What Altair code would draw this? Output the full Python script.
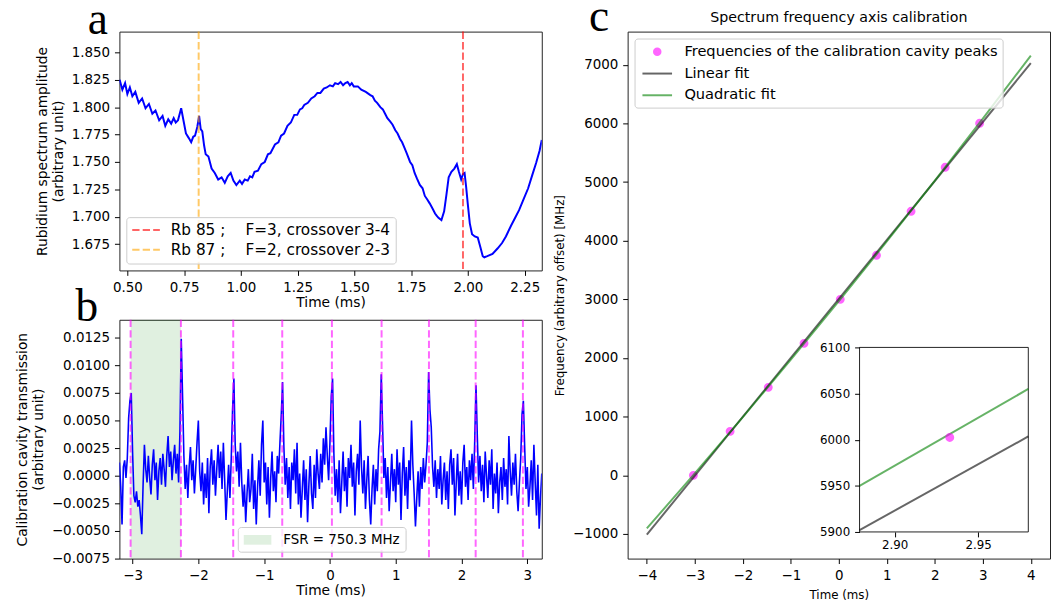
import altair as alt
import pandas as pd

FONT = "DejaVu Sans"
SERIF = "Liberation Serif"

# ---------------- panel a : rubidium spectrum ----------------
a_time = [0.466, 0.478, 0.490, 0.500, 0.511, 0.522, 0.535, 0.550, 0.565, 0.580,
          0.595, 0.610, 0.624, 0.640, 0.655, 0.667, 0.680, 0.693, 0.704, 0.713,
          0.723, 0.737, 0.748, 0.758, 0.770, 0.781, 0.790, 0.798, 0.808, 0.816,
          0.823, 0.830, 0.838, 0.845, 0.857, 0.871, 0.885, 0.900, 0.915, 0.929,
          0.942, 0.955, 0.967, 0.980, 0.995, 1.005, 1.017, 1.030, 1.040, 1.050,
          1.060, 1.075, 1.090, 1.105, 1.119, 1.130, 1.150, 1.165, 1.177, 1.190,
          1.205, 1.220, 1.235, 1.248, 1.260, 1.270, 1.279, 1.295, 1.310, 1.325,
          1.337, 1.350, 1.365, 1.378, 1.392, 1.405, 1.415, 1.428, 1.439, 1.450,
          1.460, 1.470, 1.480, 1.488, 1.497, 1.515, 1.530, 1.550, 1.570, 1.580,
          1.590, 1.600, 1.614, 1.625, 1.635, 1.645, 1.657, 1.668, 1.680, 1.690,
          1.701, 1.710, 1.720, 1.730, 1.745, 1.755, 1.765, 1.775, 1.788, 1.800,
          1.810, 1.820, 1.832, 1.845, 1.855, 1.862, 1.870, 1.883, 1.895, 1.905,
          1.915, 1.927, 1.940, 1.951, 1.960, 1.970, 1.978, 1.985, 1.992, 1.999,
          2.008, 2.018, 2.030, 2.043, 2.055, 2.065, 2.072, 2.085, 2.108, 2.130,
          2.150, 2.167, 2.190, 2.210, 2.225, 2.245, 2.265, 2.283, 2.300, 2.315, 2.325]
a_amp = [1.825, 1.816, 1.822, 1.812, 1.818, 1.810, 1.814, 1.804, 1.808, 1.799,
         1.803, 1.794, 1.797, 1.788, 1.792, 1.783, 1.789, 1.785, 1.790, 1.786,
         1.788, 1.799, 1.787, 1.776, 1.772, 1.768, 1.773, 1.774, 1.782, 1.792,
         1.780, 1.778, 1.765, 1.757, 1.755, 1.744, 1.740, 1.734, 1.736, 1.731,
         1.737, 1.740, 1.733, 1.729, 1.733, 1.730, 1.734, 1.733, 1.737, 1.736,
         1.741, 1.742, 1.748, 1.750, 1.757, 1.758, 1.766, 1.768, 1.774, 1.776,
         1.783, 1.786, 1.793, 1.793, 1.798, 1.799, 1.802, 1.804, 1.808, 1.810,
         1.813, 1.813, 1.817, 1.818, 1.820, 1.819, 1.822, 1.821, 1.823, 1.820,
         1.822, 1.823, 1.820, 1.822, 1.819, 1.819, 1.816, 1.814, 1.811, 1.810,
         1.806, 1.804, 1.800, 1.798, 1.794, 1.790, 1.787, 1.784, 1.779, 1.776,
         1.771, 1.768, 1.763, 1.758, 1.750, 1.747, 1.740, 1.735, 1.729, 1.726,
         1.719, 1.716, 1.712, 1.707, 1.703, 1.701, 1.699, 1.697, 1.705, 1.720,
         1.736, 1.741, 1.744, 1.748, 1.741, 1.734, 1.739, 1.740, 1.727, 1.712,
         1.694, 1.684, 1.682, 1.681, 1.672, 1.664, 1.663, 1.664, 1.666, 1.671,
         1.676, 1.682, 1.692, 1.700, 1.706, 1.716, 1.726, 1.738, 1.749, 1.760, 1.770]
GAP = " \u2003"
rb_labels = ["Rb 85 ;" + GAP + "F=3, crossover 3-4",
             "Rb 87 ;" + GAP + "F=2, crossover 2-3"]
rb_times = [1.978, 0.814]
rb_colors = ["#ff0000", "#ffa500"]
a_xticks = [0.50, 0.75, 1.00, 1.25, 1.50, 1.75, 2.00, 2.25]
a_yticks = [1.675, 1.700, 1.725, 1.750, 1.775, 1.800, 1.825, 1.850]

# ---------------- panel b : calibration cavity ----------------
b_t0 = -3.20
b_dt = 0.02
b_signal_e4 = [
    12, -10, -44, 8, 14, -2, 16, 52, 68, 75,
    22, -18, -24, -14, -28, -22, -36, -53, -8, 28,
    6, -6, 18, -2, -17, 10, 24, -4, 12, -22,
    4, 16, -8, 20, 6, -10, 18, 36, 8, 22,
    -4, 14, 28, 2, 20, -6, 40, 124, 72, 18,
    -12, 10, -20, 8, 26, -4, 14, -16, 6, 30,
    50, 4, -14, 12, -26, 2, -20, 16, -34, 8,
    24, -8, 14, -18, 6, 28, -2, 22, -12, 30,
    -4, -40, -14, 10, -20, 16, 60, 88, 28, 4,
    22, -10, 30, -6, -28, -8, -42, -16, 6, -24,
    -12, 20, -30, -4, -44, -10, 14, -18, 28, 50,
    -6, 12, -26, 8, -38, -2, 22, -14, 4, -24,
    18, 2, 30, 55, 85, 26, -8, 16, -20, 8,
    -30, 12, -4, 24, -16, 30, -26, 2, -38, -12,
    14, -22, 6, -42, -8, 18, -16, -30, 10, -20,
    24, 2, -12, 20, -6, 34, 10, 44, 18, -4,
    30, 72, 88, 20, -18, 6, -24, 14, -34, -6,
    22, -14, 8, -28, 16, -2, 28, -10, 12, -36,
    4, 20, -8, 50, 8, -16, 14, -30, -4, 18,
    -22, -44, -12, 10, -26, 6, -14, 24, 40, 92,
    46, -2, 16, -20, 8, -32, -6, 20, -14, 6,
    -24, 24, -8, 12, -40, 2, 26, -18, 8, -30,
    14, -4, 50, 10, -16, -46, -20, 4, -28, 8,
    -12, 16, -6, 10, 30, 94, 60, 44, 8, -10,
    14, -20, 6, -12, 18, -26, -4, 12, -22, 4,
    -30, 10, 24, -8, 16, -36, -6, 20, -18, 4,
    -26, 12, 28, -10, 8, -22, 14, -4, 20, -12,
    30, 82, 36, -6, 18, -14, 10, -24, 22, 0,
    -20, 14, -8, 24, -30, 2, -16, 12, -34, -6,
    8, -22, 16, -10, 6, -26, 36, 4, -18, 12,
    -8, 20, -14, -32, -6, 16, 56, 68, 26, -12,
    8, -28, -10, 14, -22, 28, -6, -36, 10, -48,
    -20, 2]
peak_times = [-3.03, -2.265, -1.47, -0.725, 0.03, 0.785, 1.505, 2.215, 2.933]
fsr_label = "FSR = 750.3 MHz"
fsr_start, fsr_end = -3.03, -2.265
b_xticks = [-3, -2, -1, 0, 1, 2, 3]
b_yticks = [-0.0075, -0.005, -0.0025, 0.0, 0.0025, 0.005, 0.0075, 0.01, 0.0125]

# ---------------- panel c : frequency calibration ----------------
peak_freqs = [0.0, 750.3, 1500.6, 2250.9, 3001.2, 3751.5, 4501.8, 5252.1, 6002.4]
lin_t = [-4.0, 4.0]
lin_f = [-1012.0, 7029.0]
quad_t = [-4, -3, -2, -1, 0, 1, 2, 3, 4]
quad_f = [-906, 34, 993, 1972, 2970, 3988, 5025, 6082, 7158]
c_series = ["Frequencies of the calibration cavity peaks", "Linear fit", "Quadratic fit"]
c_colors = ["#ff00ff", "#000000", "#008000"]
c_title = "Spectrum frequency axis calibration"
inset_t = [2.879, 2.980]
inset_lin_f = [5902.0, 6003.5]
inset_quad_f = [5950.0, 6055.0]
inset_pt_t = [2.933]
inset_pt_f = [6002.4]

# ---------------- styling helpers ----------------
def ring(r):
    return f"M-{r},0A{r},{r},0,1,0,{r},0A{r},{r},0,1,0,-{r},0Z"

DOT = ring(0.44) + ring(0.28) + ring(0.12)
LINE_SYM = "M-2,0H2"
RECT_SYM = "M-2,-0.7H2V0.7H-2Z"
DASH = [7.4, 3.2]
LEG_BOX = dict(fillColor="rgba(255,255,255,0.8)", strokeColor="#cccccc", cornerRadius=3,
               labelFont=FONT, labelColor="#000", labelLimit=600, title=None)

W_AB, H_AB = 428, 242
W_C, H_C = 428, 534


def label_text(txt, dx, dy, font=SERIF, size=46):
    return alt.Chart(pd.DataFrame({"L": [txt]})).mark_text(
        font=font, fontSize=size, align="center", baseline="alphabetic", color="#000"
    ).encode(text="L:N", x=alt.value(dx), y=alt.value(dy))


# ---------------- chart a ----------------
a_df = pd.DataFrame({"t": a_time, "v": a_amp})
xa = alt.X("t:Q", scale=alt.Scale(domain=[0.465, 2.325], nice=False, zero=False),
           axis=alt.Axis(values=a_xticks, format=".2f", title="Time (ms)"))
ya = alt.Y("v:Q", scale=alt.Scale(domain=[1.651, 1.869], nice=False, zero=False),
           axis=alt.Axis(values=a_yticks, format=".3f",
                         title=["Rubidium spectrum amplitude", "(arbitrary unit)"]))
line_a = alt.Chart(a_df).mark_line(color="#0000ff", strokeWidth=2, clip=True).encode(x=xa, y=ya)
rules_a = alt.Chart(pd.DataFrame({"t": rb_times, "lab": rb_labels})).mark_rule(
    strokeWidth=2, strokeDash=DASH, opacity=0.6
).encode(
    x=xa,
    color=alt.Color("lab:N", scale=alt.Scale(domain=rb_labels, range=rb_colors),
                    legend=alt.Legend(orient="none", legendX=7, legendY=188,
                                      symbolType=LINE_SYM, symbolSize=196, symbolStrokeWidth=2,
                                      symbolDash=DASH, symbolOpacity=0.6, symbolOffset=7,
                                      labelOffset=17, labelFontSize=15.5, padding=5, rowPadding=3,
                                      **LEG_BOX)))
a_chart = alt.layer(line_a, rules_a, label_text("a", -22, 2)).properties(width=W_AB, height=H_AB)

# ---------------- chart b ----------------
b_time = [round(b_t0 + b_dt * i, 2) for i in range(len(b_signal_e4))]
b_df = pd.DataFrame({"t": b_time, "v": [s * 1e-4 for s in b_signal_e4]})
xb = alt.X("t:Q", scale=alt.Scale(domain=[-3.2, 3.22], nice=False, zero=False),
           axis=alt.Axis(values=b_xticks, format="d", title="Time (ms)"))
yb = alt.Y("v:Q", scale=alt.Scale(domain=[-0.0075, 0.01413], nice=False, zero=False),
           axis=alt.Axis(values=b_yticks, format=".4f",
                         title=["Calibration cavity transmission", "(arbitrary unit)"]))
span_b = alt.Chart(pd.DataFrame({"t": [fsr_start], "t2": [fsr_end], "lab": [fsr_label]})).mark_rect(
    opacity=0.12
).encode(
    x=xb, x2="t2:Q",
    fill=alt.Fill("lab:N", scale=alt.Scale(domain=[fsr_label], range=["#008000"]),
                  legend=alt.Legend(orient="none", legendX=120, legendY=210, symbolType=RECT_SYM,
                                    symbolSize=196, symbolOpacity=0.12, symbolOffset=7,
                                    labelOffset=18, labelFontSize=13.6, padding=5, **LEG_BOX)))
line_b = alt.Chart(b_df).mark_line(color="#0000ff", strokeWidth=1.6, clip=True).encode(x=xb, y=yb)
rules_b = alt.Chart(pd.DataFrame({"t": peak_times})).mark_rule(
    color="#ff00ff", opacity=0.6, strokeWidth=2, strokeDash=DASH).encode(x=xb)
b_chart = alt.layer(span_b, line_b, rules_b, label_text("b", -33, 1)).properties(width=W_AB, height=H_AB)

# ---------------- chart c ----------------
c_leg = dict(orient="none", legendX=7, legendY=7, symbolSize=225, symbolStrokeWidth=2,
             symbolOpacity=0.6, symbolOffset=9.5, labelOffset=19, labelFontSize=14.8,
             padding=5, rowPadding=6, **LEG_BOX)
c_color = alt.Scale(domain=c_series, range=c_colors)
c_shape = alt.Scale(domain=c_series, range=[DOT, LINE_SYM, LINE_SYM])
xc = alt.X("t:Q", scale=alt.Scale(domain=[-4.4, 4.4], nice=False, zero=False),
           axis=alt.Axis(values=list(range(-4, 5)), format="d", title="Time (ms)",
                         titleFontSize=12, titlePadding=8, orient="bottom"))
yc = alt.Y("f:Q", scale=alt.Scale(domain=[-1420, 7566], nice=False, zero=False),
           axis=alt.Axis(values=list(range(-1000, 7001, 1000)), format="d",
                         title="Frequency (arbitrary offset) [MHz]", titleFontSize=12, orient="left"))
pts_df = pd.DataFrame({"t": peak_times, "f": peak_freqs, "s": c_series[0]})
lin_df = pd.DataFrame({"t": lin_t, "f": lin_f, "s": c_series[1]})
quad_df = pd.DataFrame({"t": quad_t, "f": quad_f, "s": c_series[2]})
pts_c = alt.Chart(pts_df).mark_point(filled=False, strokeWidth=2, opacity=0.6, size=253).encode(
    x=xc, y=yc,
    color=alt.Color("s:N", scale=c_color, legend=alt.Legend(**c_leg)),
    shape=alt.Shape("s:N", scale=c_shape, legend=alt.Legend(**c_leg)))
lin_c = alt.Chart(lin_df).mark_line(strokeWidth=2, opacity=0.6).encode(
    x=xc, y=yc, color=alt.Color("s:N", scale=c_color, legend=alt.Legend(**c_leg)))
quad_c = alt.Chart(quad_df).mark_line(strokeWidth=2, opacity=0.6).encode(
    x=xc, y=yc, color=alt.Color("s:N", scale=c_color, legend=alt.Legend(**c_leg)))
main_c = alt.layer(pts_c, lin_c, quad_c, label_text("c", -29, -1),
                   label_text(c_title, W_C / 2, -10, font=FONT, size=14.4))

xi = alt.X("t:Q", scale=alt.Scale(domain=inset_t, range=[235, 406], nice=False, zero=False),
           axis=alt.Axis(values=[2.90, 2.95], format=".2f", title=None, orient="bottom",
                         offset=-27, labelFontSize=12, labelPadding=3, zindex=2))
yi = alt.Y("f:Q", scale=alt.Scale(domain=[5900, 6100], range=[507, 320], nice=False, zero=False),
           axis=alt.Axis(values=[5900, 5950, 6000, 6050, 6100], format="d", title=None,
                         orient="left", offset=-235, labelFontSize=12, zindex=2))
box_i = alt.Chart(pd.DataFrame({"t": [inset_t[0]], "t2": [inset_t[1]], "f": [5900], "f2": [6100]})).mark_rect(
    fill="white", stroke="#222", strokeWidth=1).encode(x=xi, x2="t2:Q", y=yi, y2="f2:Q")
lin_i = alt.Chart(pd.DataFrame({"t": inset_t, "f": inset_lin_f})).mark_line(
    color="#000000", opacity=0.6, strokeWidth=2).encode(x=xi, y=yi)
quad_i = alt.Chart(pd.DataFrame({"t": inset_t, "f": inset_quad_f})).mark_line(
    color="#008000", opacity=0.6, strokeWidth=2).encode(x=xi, y=yi)
pt_i = alt.Chart(pd.DataFrame({"t": inset_pt_t, "f": inset_pt_f})).mark_point(
    shape=DOT, filled=False, strokeWidth=2, opacity=0.6, size=253, color="#ff00ff").encode(x=xi, y=yi)
inset_c = alt.layer(box_i, lin_i, quad_i, pt_i)

c_chart = alt.layer(main_c, inset_c).resolve_scale(x="independent", y="independent").properties(
    width=W_C, height=H_C)

left = alt.vconcat(a_chart, b_chart, spacing=50, bounds="flush").resolve_scale(
    color="independent", fill="independent")
chart = alt.hconcat(left, c_chart, spacing=W_AB + 87, bounds="flush").resolve_scale(
    color="independent", fill="independent", shape="independent"
).properties(
    padding={"left": 15, "top": -11, "right": 0, "bottom": 0}, background="white"
).configure_view(
    stroke="#222", strokeWidth=1
).configure_axis(
    labelFont=FONT, labelFontSize=13.6, labelColor="#000", titleFont=FONT, titleFontSize=14,
    titleFontWeight="normal", titleColor="#000", tickColor="#000", tickSize=5, tickWidth=1,
    domain=False, grid=False, labelFlush=False, labelOverlap=False,
    titleLineHeight=16
).configure_axisX(
    labelPadding=5, titlePadding=2
).configure_axisY(
    labelPadding=5, titlePadding=6
)

chart.save("out.html", embed_options={"renderer": "svg", "actions": False})
